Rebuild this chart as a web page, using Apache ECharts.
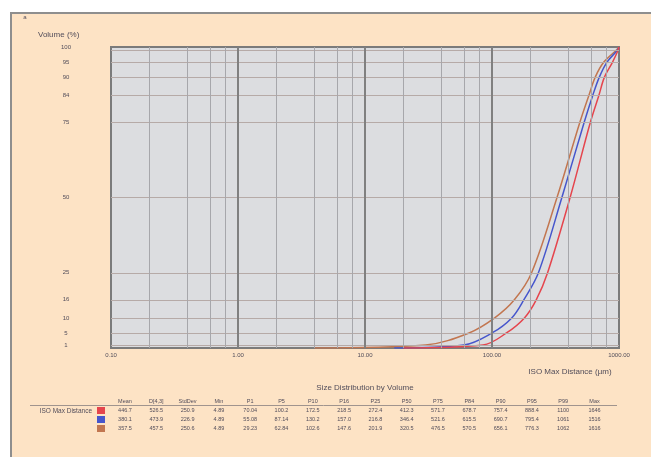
<!DOCTYPE html>
<html><head><meta charset="utf-8">
<script src="https://cdn.jsdelivr.net/npm/echarts@6/dist/echarts.min.js"></script>
<style>
html,body{margin:0;padding:0;background:#fff;width:651px;height:457px;overflow:hidden;}
#frame{position:absolute;left:10px;top:12px;width:660px;height:470px;background:#fde3c5;border-top:2px solid #8e8e8e;border-left:2px solid #8e8e8e;}
#chart{position:absolute;left:0;top:0;width:651px;height:457px;}
</style></head><body>
<div id="frame"></div><div id="chart"></div>
<script>
// ---- data ----
const percentLevels = [0, 1, 5, 10, 16, 25, 50, 75, 84, 90, 95, 99, 100];
const redSizes   = [20, 85, 130, 180, 223, 274, 412, 595, 695, 768, 890, 985, 1000];
const blueSizes  = [17, 60, 100, 143, 178, 232, 355, 532, 622, 700, 805, 975, 1000];
const brownSizes = [4.0, 30, 66, 105, 150, 205, 325, 492, 580, 650, 760, 955, 1000];

const yTickValues = [1, 5, 10, 16, 25, 50, 75, 84, 90, 95, 99, 100];
const yGridValues = [1, 5, 10, 16, 25, 50, 75, 84, 90, 95, 99];
const minorGridSizes = [0.2, 0.4, 0.6, 0.8, 2, 4, 6, 8, 20, 40, 60, 80, 200, 400, 600, 800];
const majorGridSizes = [1, 10, 100];

const tableTitle = 'Size Distribution by Volume';
const rowLabel = 'ISO Max Distance';
const tableHeaders = ['Mean','D[4,3]','StdDev','Min','P1','P5','P10','P16','P25','P50','P75','P84','P90','P95','P99','Max'];
const redRow   = ['446.7','526.5','250.9','4.89','70.04','100.2','172.5','218.5','272.4','412.3','571.7','678.7','757.4','888.4','1100','1646'];
const blueRow  = ['380.1','473.9','226.9','4.89','55.08','87.14','130.2','157.0','216.8','346.4','521.6','615.5','690.7','795.4','1061','1516'];
const brownRow = ['357.5','457.5','250.6','4.89','29.23','62.84','102.6','147.6','201.9','320.5','476.5','570.5','656.1','776.3','1062','1616'];

const colRed = '#e5454d', colBlue = '#4656cc', colBrown = '#c27650';
const txt = '#524d5a';
const FF = '"Liberation Sans", Arial, sans-serif';

function pairs(sizes){ return sizes.map((s,i)=>[s, percentLevels[i]]); }

const chart = echarts.init(document.getElementById('chart'), null, {renderer:'canvas'});

const graphics = [];
function addText(text, x, y, size, align){
  graphics.push({type:'text', x:x, y:y, silent:true, z:10,
    style:{text:text, fill:txt, font:'normal '+size+'px '+FF,
      align:align||'left', verticalAlign:'middle', textAlign:align||'left', textVerticalAlign:'middle'}});
}
addText('a', 25, 17, 6, 'center');
addText('Volume (%)', 38, 35, 8, 'left');
addText('ISO Max Distance (µm)', 570, 372, 8, 'center');
addText(tableTitle, 365, 388, 8, 'center');
addText(rowLabel, 92, 411, 6.5, 'right');
const colX0 = 125, colStep = 31.3;
const rowYs = [410.5, 419.5, 428.5];
const rows = [redRow, blueRow, brownRow];
const rowCols = [colRed, colBlue, colBrown];
tableHeaders.forEach((h,i)=>addText(h, colX0 + i*colStep, 401.5, 5.5, 'center'));
rows.forEach((r,ri)=>r.forEach((v,i)=>addText(v, colX0 + i*colStep, rowYs[ri], 5.5, 'center')));
graphics.push({type:'line', silent:true, z:9, shape:{x1:30, y1:405.5, x2:617, y2:405.5}, style:{stroke:'#a0948e', lineWidth:1}});
rowCols.forEach((c,ri)=>graphics.push({type:'rect', silent:true, z:10,
  shape:{x:97, y:rowYs[ri]-3.5, width:8, height:7}, style:{fill:c}}));

const gridLines = []
  .concat(yGridValues.map(v=>({yAxis:v, lineStyle:{color:'#b6aaa7', width:1, type:'solid'}})))
  .concat(minorGridSizes.map(v=>({xAxis:v, lineStyle:{color:'#a7a7ab', width:1, type:'solid'}})))
  .concat(majorGridSizes.map(v=>({xAxis:v, lineStyle:{color:'#808080', width:2, type:'solid'}})));

const option = {
  animation:false,
  backgroundColor:'transparent',
  textStyle:{fontFamily:FF},
  grid:{left:111, top:47, width:508, height:301, show:true, backgroundColor:'#dcdde0', borderColor:'#7b7b7b', borderWidth:2},
  xAxis:{type:'log', logBase:10, min:0.1, max:1000,
    axisLine:{show:false}, axisTick:{show:false}, splitLine:{show:false},
    axisLabel:{formatter:v=>Number(v).toFixed(2), fontSize:6, color:txt, margin:4, fontFamily:FF}},
  yAxis:{type:'value', min:0, max:100, interval:1,
    axisLine:{show:false}, axisTick:{show:false}, splitLine:{show:false},
    axisLabel:{formatter:v=>yTickValues.includes(Math.round(v))?String(Math.round(v)):'', showMaxLabel:true, hideOverlap:false,
      fontSize:6, color:txt, margin:45, align:'center', fontFamily:FF}},
  graphic:graphics,
  series:[
    {type:'line', z:1, data:[[1,0]], showSymbol:false, symbol:'none', lineStyle:{opacity:0}, silent:true,
      markLine:{silent:true, symbol:['none','none'], label:{show:false}, animation:false, data:gridLines}},
    {type:'line', z:3, data:pairs(brownSizes), smooth:0.35, showSymbol:false, symbol:'none', lineStyle:{color:colBrown, width:1.5}},
    {type:'line', z:3, data:pairs(blueSizes), smooth:0.35, showSymbol:false, symbol:'none', lineStyle:{color:colBlue, width:1.5}},
    {type:'line', z:3, data:pairs(redSizes), smooth:0.35, showSymbol:false, symbol:'none', lineStyle:{color:colRed, width:1.5}}
  ]
};
chart.setOption(option);
</script>
</body></html>
